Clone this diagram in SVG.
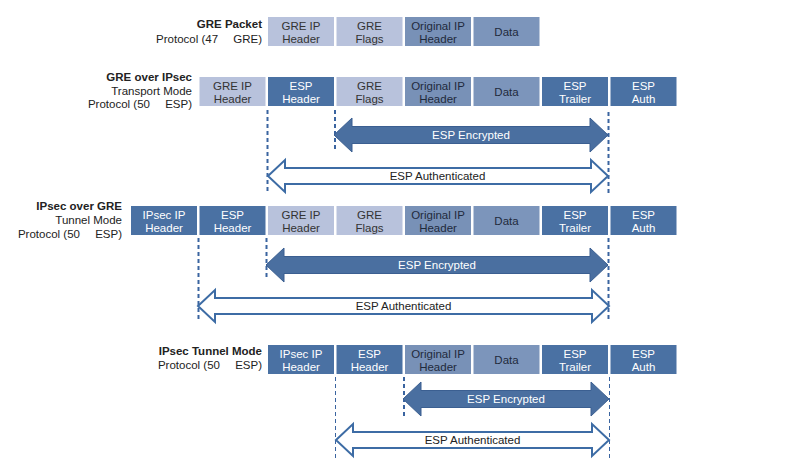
<svg xmlns="http://www.w3.org/2000/svg" width="805" height="462" viewBox="0 0 805 462">
<style>
text{font-family:"Liberation Sans",Arial,sans-serif;font-size:11.5px;}
.lbl{text-anchor:end;fill:#222;}
.b{font-weight:bold;}
.bt{text-anchor:middle;}
.lt rect{fill:#b8c2dc;} .lt text{fill:#333;}
.md rect{fill:#7891b7;} .md text{fill:#1f2a3c;}
.dk rect{fill:#4a71a3;} .dk text{fill:#fff;}
.enc{fill:#4a6fa0;stroke:#3b5f91;stroke-width:1;}
.aut{fill:#fff;stroke:#3d6ca5;stroke-width:2;}
.dl{stroke:#3a64a0;stroke-width:2;stroke-dasharray:4 3;fill:none;}
.dt{stroke:#3a64a0;stroke-width:1;stroke-dasharray:4 3;fill:none;}
.at{text-anchor:middle;fill:#222;}
.et{text-anchor:middle;fill:#fff;}
</style>

<g id="labels">
<text class="lbl b" x="262" y="28">GRE Packet</text>
<text class="lbl" x="262" y="43">Protocol (47 <tspan dx="12">GRE)</tspan></text>
<text class="lbl b" x="192" y="81">GRE over IPsec</text>
<text class="lbl" x="192" y="94.5">Transport Mode</text>
<text class="lbl" x="192" y="108">Protocol (50 <tspan dx="12">ESP)</tspan></text>
<text class="lbl b" x="122" y="210">IPsec over GRE</text>
<text class="lbl" x="122" y="224">Tunnel Mode</text>
<text class="lbl" x="122" y="238">Protocol (50 <tspan dx="12">ESP)</tspan></text>
<text class="lbl b" x="262" y="355">IPsec Tunnel Mode</text>
<text class="lbl" x="262" y="369">Protocol (50 <tspan dx="12">ESP)</tspan></text>
</g>

<!-- Row 1 -->
<g id="r1-greip" class="lt"><rect x="268" y="17" width="66" height="29"/><text class="bt" x="301" y="29.5">GRE IP</text><text class="bt" x="301" y="43">Header</text></g>
<g id="r1-greflags" class="lt"><rect x="336.5" y="17" width="66" height="29"/><text class="bt" x="369.5" y="29.5">GRE</text><text class="bt" x="369.5" y="43">Flags</text></g>
<g id="r1-origip" class="md"><rect x="405" y="17" width="66" height="29"/><text class="bt" x="438" y="29.5">Original IP</text><text class="bt" x="438" y="43">Header</text></g>
<g id="r1-data" class="md"><rect x="473.5" y="17" width="66" height="29" style="fill:#7c95bb"/><text class="bt" x="506.5" y="36">Data</text></g>

<!-- Row 2 -->
<g id="r2-greip" class="lt"><rect x="199.5" y="77" width="66" height="29"/><text class="bt" x="232.5" y="89.5">GRE IP</text><text class="bt" x="232.5" y="103">Header</text></g>
<g id="r2-esph" class="dk"><rect x="268" y="77" width="66" height="29"/><text class="bt" x="301" y="89.5">ESP</text><text class="bt" x="301" y="103">Header</text></g>
<g id="r2-greflags" class="lt"><rect x="336.5" y="77" width="66" height="29"/><text class="bt" x="369.5" y="89.5">GRE</text><text class="bt" x="369.5" y="103">Flags</text></g>
<g id="r2-origip" class="md"><rect x="405" y="77" width="66" height="29"/><text class="bt" x="438" y="89.5">Original IP</text><text class="bt" x="438" y="103">Header</text></g>
<g id="r2-data" class="md"><rect x="473.5" y="77" width="66" height="29" style="fill:#7c95bb"/><text class="bt" x="506.5" y="96">Data</text></g>
<g id="r2-espt" class="dk"><rect x="542" y="77" width="66" height="29"/><text class="bt" x="575" y="89.5">ESP</text><text class="bt" x="575" y="103">Trailer</text></g>
<g id="r2-espa" class="dk"><rect x="610.5" y="77" width="66" height="29"/><text class="bt" x="643.5" y="89.5">ESP</text><text class="bt" x="643.5" y="103">Auth</text></g>

<!-- Row 3 -->
<g id="r3-ipsecip" class="dk"><rect x="131" y="206" width="66" height="29"/><text class="bt" x="164" y="218.5">IPsec IP</text><text class="bt" x="164" y="232">Header</text></g>
<g id="r3-esph" class="dk"><rect x="199.5" y="206" width="66" height="29"/><text class="bt" x="232.5" y="218.5">ESP</text><text class="bt" x="232.5" y="232">Header</text></g>
<g id="r3-greip" class="lt"><rect x="268" y="206" width="66" height="29"/><text class="bt" x="301" y="218.5">GRE IP</text><text class="bt" x="301" y="232">Header</text></g>
<g id="r3-greflags" class="lt"><rect x="336.5" y="206" width="66" height="29"/><text class="bt" x="369.5" y="218.5">GRE</text><text class="bt" x="369.5" y="232">Flags</text></g>
<g id="r3-origip" class="md"><rect x="405" y="206" width="66" height="29"/><text class="bt" x="438" y="218.5">Original IP</text><text class="bt" x="438" y="232">Header</text></g>
<g id="r3-data" class="md"><rect x="473.5" y="206" width="66" height="29" style="fill:#7c95bb"/><text class="bt" x="506.5" y="225">Data</text></g>
<g id="r3-espt" class="dk"><rect x="542" y="206" width="66" height="29"/><text class="bt" x="575" y="218.5">ESP</text><text class="bt" x="575" y="232">Trailer</text></g>
<g id="r3-espa" class="dk"><rect x="610.5" y="206" width="66" height="29"/><text class="bt" x="643.5" y="218.5">ESP</text><text class="bt" x="643.5" y="232">Auth</text></g>

<!-- Row 4 -->
<g id="r4-ipsecip" class="dk"><rect x="268" y="345" width="66" height="29"/><text class="bt" x="301" y="357.5">IPsec IP</text><text class="bt" x="301" y="371">Header</text></g>
<g id="r4-esph" class="dk"><rect x="336.5" y="345" width="66" height="29"/><text class="bt" x="369.5" y="357.5">ESP</text><text class="bt" x="369.5" y="371">Header</text></g>
<g id="r4-origip" class="md"><rect x="405" y="345" width="66" height="29"/><text class="bt" x="438" y="357.5">Original IP</text><text class="bt" x="438" y="371">Header</text></g>
<g id="r4-data" class="md"><rect x="473.5" y="345" width="66" height="29" style="fill:#7c95bb"/><text class="bt" x="506.5" y="364">Data</text></g>
<g id="r4-espt" class="dk"><rect x="542" y="345" width="66" height="29"/><text class="bt" x="575" y="357.5">ESP</text><text class="bt" x="575" y="371">Trailer</text></g>
<g id="r4-espa" class="dk"><rect x="610.5" y="345" width="66" height="29"/><text class="bt" x="643.5" y="357.5">ESP</text><text class="bt" x="643.5" y="371">Auth</text></g>

<g id="connectors">
<!-- dashed guides -->
<line class="dl" x1="267.5" y1="110" x2="267.5" y2="194"/>
<line class="dl" x1="335" y1="110" x2="335" y2="152"/>
<line class="dl" x1="608.5" y1="112" x2="608.5" y2="194"/>
<line class="dl" x1="198.5" y1="238" x2="198.5" y2="322"/>
<line class="dl" x1="266.5" y1="238" x2="266.5" y2="280"/>
<line class="dl" x1="608.5" y1="238" x2="608.5" y2="322"/>
<line class="dt" x1="335.5" y1="377" x2="335.5" y2="461"/>
<line class="dl" x1="404" y1="377" x2="404" y2="416"/>
<line class="dt" x1="609.5" y1="377" x2="609.5" y2="461"/>

<!-- Row 2 arrows -->
<path class="enc" d="M334,135 L352,118 L352,126.5 L590,126.5 L590,118 L608,135 L590,152 L590,143.5 L352,143.5 L352,152 Z"/>
<text class="et" x="471" y="139">ESP Encrypted</text>
<path class="aut" d="M268,176 L285,160 L285,168 L591,168 L591,160 L608,176 L591,192 L591,184 L285,184 L285,192 Z"/>
<text class="at" x="437.5" y="180">ESP Authenticated</text>

<!-- Row 3 arrows -->
<path class="enc" d="M266,265 L284,248 L284,256.5 L590,256.5 L590,248 L608,265 L590,282 L590,273.5 L284,273.5 L284,282 Z"/>
<text class="et" x="437" y="269">ESP Encrypted</text>
<path class="aut" d="M198,306 L215,290 L215,298 L592,298 L592,290 L609,306 L592,322 L592,314 L215,314 L215,322 Z"/>
<text class="at" x="403.5" y="310">ESP Authenticated</text>

<!-- Row 4 arrows -->
<path class="enc" d="M403,399 L421,382 L421,390.5 L591,390.5 L591,382 L609,399 L591,416 L591,407.5 L421,407.5 L421,416 Z"/>
<text class="et" x="506" y="403">ESP Encrypted</text>
<path class="aut" d="M336,440 L353,424 L353,432 L592,432 L592,424 L609,440 L592,456 L592,448 L353,448 L353,456 Z"/>
<text class="at" x="472.5" y="444">ESP Authenticated</text>
</g>
</svg>
